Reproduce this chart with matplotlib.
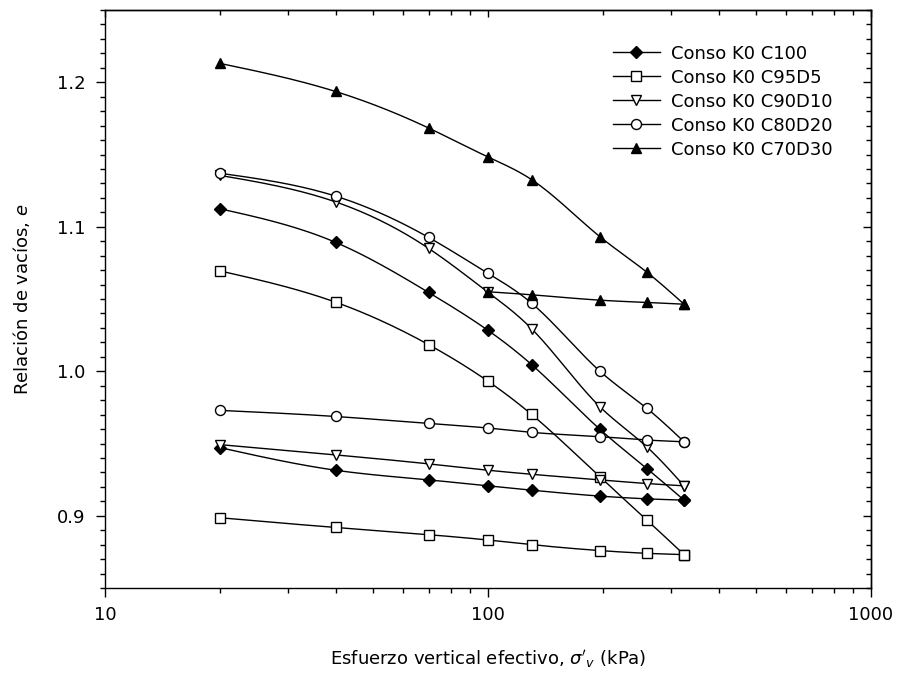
import numpy as np
import matplotlib
matplotlib.use("Agg")
import matplotlib.pyplot as plt
from matplotlib.lines import Line2D
from matplotlib.ticker import LogLocator, MultipleLocator, NullFormatter, FixedLocator, FixedFormatter

# ---------------- data ----------------
p_load = [20, 40, 70, 100, 130, 196, 260, 325]
p_unload = [325, 260, 196, 130, 100, 70, 40, 20]
p_unload_c70 = [325, 260, 196, 130, 100]

c100_load = [1.1124, 1.0892, 1.0545, 1.0283, 1.0046, 0.9598, 0.9326, 0.9108]
c100_unload = [0.9108, 0.9117, 0.9136, 0.9177, 0.9207, 0.9248, 0.9315, 0.9471]

c95d5_load = [1.0694, 1.0478, 1.0184, 0.9931, 0.9701, 0.9269, 0.8970, 0.8731]
c95d5_unload = [0.8731, 0.8740, 0.8759, 0.8800, 0.8832, 0.8869, 0.8919, 0.8986]

c90d10_load = [1.1355, 1.1172, 1.0850, 1.0547, 1.0294, 0.9754, 0.9476, 0.9207]
c90d10_unload = [0.9207, 0.9223, 0.9248, 0.9287, 0.9315, 0.9359, 0.9421, 0.9492]

c80d20_load = [1.1370, 1.1212, 1.0926, 1.0678, 1.0471, 1.0000, 0.9743, 0.9512]
c80d20_unload = [0.9512, 0.9524, 0.9547, 0.9577, 0.9607, 0.9639, 0.9687, 0.9729]

c70d30_load = [1.2130, 1.1936, 1.1683, 1.1483, 1.1326, 1.0931, 1.0685, 1.0464]
c70d30_unload = [1.0464, 1.0476, 1.0492, 1.0529, 1.0550]

labels = ["Conso K0 C100", "Conso K0 C95D5", "Conso K0 C90D10",
          "Conso K0 C80D20", "Conso K0 C70D30"]

x_ticks = [10, 100, 1000]
x_ticklabels = ["10", "100", "1000"]
y_ticks = [0.9, 1.0, 1.1, 1.2]
y_ticklabels = ["0.9", "1.0", "1.1", "1.2"]

# ---------------- helpers ----------------
def smooth(x, y, n=30):
    """Natural cubic spline through the points in (log10 x, y) space."""
    lx = np.log10(np.asarray(x, float))
    yy = np.asarray(y, float)
    order = np.argsort(lx)
    lx, yy = lx[order], yy[order]
    m = len(lx)
    if m < 3:
        return 10 ** lx, yy
    h = np.diff(lx)
    A = np.zeros((m, m))
    b = np.zeros(m)
    A[0, 0] = 1.0
    A[-1, -1] = 1.0
    for i in range(1, m - 1):
        A[i, i - 1] = h[i - 1]
        A[i, i] = 2 * (h[i - 1] + h[i])
        A[i, i + 1] = h[i]
        b[i] = 6 * ((yy[i + 1] - yy[i]) / h[i] - (yy[i] - yy[i - 1]) / h[i - 1])
    M = np.linalg.solve(A, b)
    xs_out, ys_out = [], []
    for i in range(m - 1):
        t = np.linspace(lx[i], lx[i + 1], n, endpoint=(i == m - 2))
        a = lx[i + 1] - t
        c = t - lx[i]
        s = (M[i] * a ** 3 / (6 * h[i]) + M[i + 1] * c ** 3 / (6 * h[i])
             + (yy[i] / h[i] - M[i] * h[i] / 6) * a
             + (yy[i + 1] / h[i] - M[i + 1] * h[i] / 6) * c)
        xs_out.append(t)
        ys_out.append(s)
    return 10 ** np.concatenate(xs_out), np.concatenate(ys_out)

plt.rcParams['font.family'] = ['DejaVu Sans']
plt.rcParams['mathtext.fontset'] = 'dejavusans'

fig = plt.figure(figsize=(8.98, 6.88), dpi=100)
ax = fig.add_axes([105 / 898, 1 - 588 / 688, (871 - 105) / 898, (588 - 10) / 688])

series = [
    (p_load, c100_load, p_unload, c100_unload, 'D', 'black', 6.0),
    (p_load, c95d5_load, p_unload, c95d5_unload, 's', 'white', 6.8),
    (p_load, c90d10_load, p_unload, c90d10_unload, 'v', 'white', 7.0),
    (p_load, c80d20_load, p_unload, c80d20_unload, 'o', 'white', 7.2),
    (p_load, c70d30_load, p_unload_c70, c70d30_unload, '^', 'black', 7.8),
]

handles = []
for (xl, yl, xu, yu, mk, fc, ms), lab in zip(series, labels):
    for xs, ys in ((xl, yl), (xu, yu)):
        sx, sy = smooth(xs, ys)
        ax.plot(sx, sy, color='black', lw=1.0, zorder=2)
        ax.plot(xs, ys, linestyle='none', marker=mk, ms=ms, mfc=fc, mec='black',
                mew=1.0, zorder=3)
    handles.append(Line2D([], [], color='black', lw=1.0, marker=mk, ms=ms,
                          mfc=fc, mec='black', mew=1.0, label=lab))

ax.set_xscale('log')
ax.set_xlim(10, 1000)
ax.set_ylim(0.85, 1.25)

ax.xaxis.set_major_locator(FixedLocator(x_ticks))
ax.xaxis.set_major_formatter(FixedFormatter(x_ticklabels))
ax.xaxis.set_minor_locator(LogLocator(base=10, subs=np.arange(2, 10)))
ax.xaxis.set_minor_formatter(NullFormatter())
ax.yaxis.set_major_locator(FixedLocator(y_ticks))
ax.yaxis.set_major_formatter(FixedFormatter(y_ticklabels))
ax.yaxis.set_minor_locator(MultipleLocator(0.01))

ax.tick_params(axis='both', which='major', direction='out', length=6.5, width=1.0,
               labelsize=13, top=False, right=False)
ax.tick_params(axis='both', which='minor', direction='out', length=3.6, width=1.0,
               top=False, right=False)
ax.tick_params(axis='x', which='major', pad=6.5)
ax.tick_params(axis='y', which='major', pad=7.5)

for sp in ax.spines.values():
    sp.set_linewidth(1.0)

# top / right inward ticks
secx = ax.secondary_xaxis('top')
secx.xaxis.set_major_locator(FixedLocator(x_ticks))
secx.xaxis.set_minor_locator(LogLocator(base=10, subs=np.arange(2, 10)))
secx.xaxis.set_minor_formatter(NullFormatter())
secx.tick_params(which='major', direction='in', length=5, width=1.0, labeltop=False)
secx.tick_params(which='minor', direction='in', length=3.5, width=1.0)
secx.spines['top'].set_linewidth(1.0)

secy = ax.secondary_yaxis('right')
secy.yaxis.set_major_locator(FixedLocator(y_ticks))
secy.yaxis.set_minor_locator(MultipleLocator(0.01))
secy.tick_params(which='major', direction='in', length=6, width=1.0, labelright=False)
secy.tick_params(which='minor', direction='in', length=3.5, width=1.0)
secy.spines['right'].set_linewidth(1.0)

ax.set_xlabel(r"Esfuerzo vertical efectivo, $\sigma'_v$ (kPa)", fontsize=13)
ax.xaxis.set_label_coords(0.5, -0.103)
ax.set_ylabel(r"Relación de vacíos, $e$", fontsize=13)
ax.yaxis.set_label_coords(-0.095, 0.5)

leg = ax.legend(handles=handles, loc='upper left', bbox_to_anchor=(0.663, 0.94),
                frameon=False, fontsize=13, handlelength=2.6, handletextpad=0.6,
                labelspacing=0.33, borderpad=0.0, borderaxespad=0.0, numpoints=1)

fig.savefig("out.png", dpi=100)
